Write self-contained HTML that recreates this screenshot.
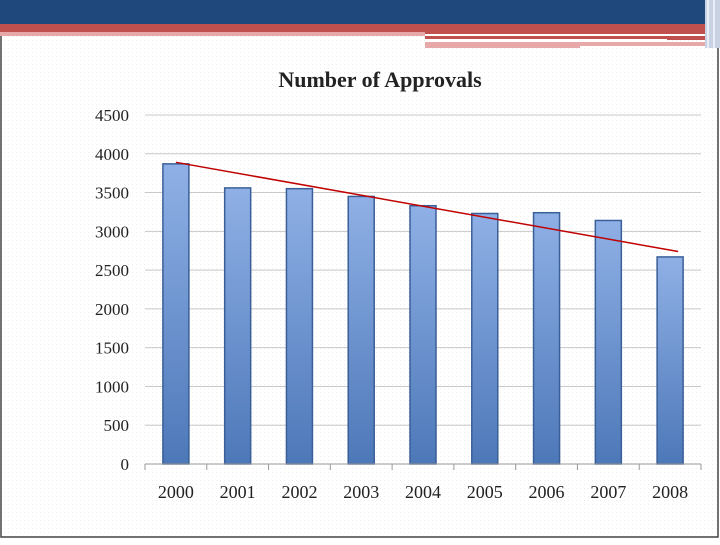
<!DOCTYPE html>
<html><head><meta charset="utf-8"><style>
body{margin:0;width:720px;height:540px;overflow:hidden;background:#fff;font-family:"Liberation Serif",serif}
</style></head><body>
<svg width="720" height="540">
<defs>
<pattern id="dots" width="4" height="4" patternUnits="userSpaceOnUse"><rect width="1" height="1" fill="#eee"/></pattern>
<linearGradient id="bg" x1="0" y1="0" x2="0" y2="1"><stop offset="0" stop-color="#8fb0e6"/><stop offset="1" stop-color="#4d78b8"/></linearGradient>
</defs>
<rect width="720" height="540" fill="url(#dots)"/>
<rect x="1" y="30" width="717" height="507" fill="none" stroke="#444" stroke-width="1.5"/>
<g>
<rect x="0" y="0" width="720" height="24" fill="#1f497d"/>
<rect x="0" y="24" width="705" height="10" fill="#c0504d"/>
<rect x="0" y="32" width="425" height="4" fill="#e6a8a8"/>
<rect x="425" y="36" width="280" height="4" fill="#c0504d"/>
<rect x="425" y="39" width="242" height="3" fill="#fff"/>
<rect x="425" y="42" width="155" height="6" fill="#e6a8a8"/>
<rect x="580" y="42" width="125" height="4" fill="#e6a8a8"/>
<rect x="705" y="0" width="15" height="48" fill="#c8d2e2"/>
<rect x="707" y="0" width="2" height="48" fill="#e8eef6"/>
<rect x="713" y="0" width="2" height="48" fill="#e8eef6"/>
</g>
<text x="380" y="87" text-anchor="middle" font-size="22" font-weight="bold" fill="#222">Number of Approvals</text>
<g id="chart"></g>
</svg>
<script>
const categories=["2000","2001","2002","2003","2004","2005","2006","2007","2008"];
const approvals=[3870,3560,3550,3450,3330,3230,3240,3140,2670];
const yTicks=[0,500,1000,1500,2000,2500,3000,3500,4000,4500];
const trendStart=3890;
const trendEnd=2740;
const NS="http://www.w3.org/2000/svg";
const g=document.getElementById('chart');
const L=145,R=701,Y0=464,Y1=115,YMAX=4500;
const step=(R-L)/categories.length;
const y=v=>Y0-(v/YMAX)*(Y0-Y1);
const xc=i=>L+step*(i+0.5);
function mk(t,a){const e=document.createElementNS(NS,t);for(const k in a)e.setAttribute(k,a[k]);g.appendChild(e);return e;}
yTicks.forEach(v=>{
 if(v>0){const l=mk('line',{x1:L,x2:R,y1:y(v),y2:y(v),stroke:'#c8c8c8','stroke-width':1});
 
 }
 const t=mk('text',{x:129,y:y(v)+6,'text-anchor':'end','font-size':17,fill:'#222'});
 t.textContent=v;
 
 
});
approvals.forEach((v,i)=>{
 const r=mk('rect',{x:xc(i)-13,y:y(v),width:26,height:Y0-y(v),fill:'url(#bg)',stroke:'#3a5f98','stroke-width':1.5});
 
 
 const t=mk('text',{x:xc(i),y:498,'text-anchor':'middle','font-size':18,fill:'#222'});
 t.textContent=categories[i];
 
 
});
const ax=mk('line',{x1:L,x2:R,y1:Y0,y2:Y0,stroke:'#999','stroke-width':1});


for(let i=0;i<=categories.length;i++){
 const tk=mk('line',{x1:L+step*i,x2:L+step*i,y1:Y0,y2:Y0+6,stroke:'#999'});
 
 
}
const tl=mk('line',{x1:xc(0),y1:y(trendStart),x2:xc(categories.length-1)+8,y2:y(trendEnd),stroke:'#c00000','stroke-width':1.5});


</script>
</body></html>
